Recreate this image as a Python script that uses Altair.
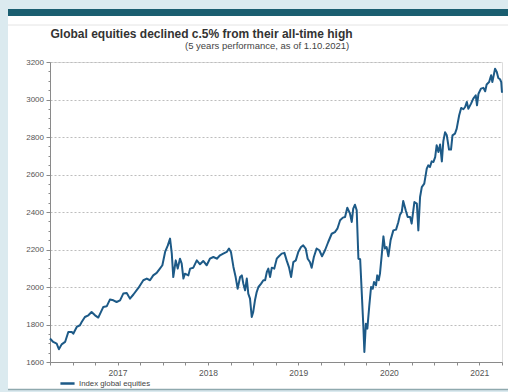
import altair as alt
import pandas as pd

# ---- data (approximate weekly-ish index levels) ----
dates = [
    "2016-10-01", "2016-10-14", "2016-10-28", "2016-11-06", "2016-11-17", "2016-12-01",
    "2016-12-14", "2016-12-28", "2017-01-03", "2017-01-17", "2017-01-30", "2017-02-06",
    "2017-02-19", "2017-03-05", "2017-03-18", "2017-04-01", "2017-04-14", "2017-05-04",
    "2017-05-18", "2017-05-31", "2017-06-14", "2017-06-27", "2017-07-11", "2017-07-24",
    "2017-08-07", "2017-08-20", "2017-09-03", "2017-09-23", "2017-10-13", "2017-10-27",
    "2017-11-09", "2017-11-22", "2017-12-06", "2017-12-19", "2017-12-29", "2018-01-09",
    "2018-01-20", "2018-01-29", "2018-02-05", "2018-02-11", "2018-02-21", "2018-03-01",
    "2018-03-10", "2018-03-17", "2018-03-24", "2018-03-30", "2018-04-13", "2018-04-20",
    "2018-05-03", "2018-05-17", "2018-05-30", "2018-06-12", "2018-06-26", "2018-07-09",
    "2018-07-23", "2018-08-06", "2018-08-19", "2018-09-01", "2018-09-15", "2018-09-24",
    "2018-10-02", "2018-10-12", "2018-10-21", "2018-10-29", "2018-11-08", "2018-11-15",
    "2018-11-21", "2018-11-28", "2018-12-05", "2018-12-11", "2018-12-18", "2018-12-25",
    "2018-12-31", "2019-01-07", "2019-01-14", "2019-01-21", "2019-02-01", "2019-02-10",
    "2019-02-17", "2019-02-24", "2019-03-02", "2019-03-09", "2019-03-16", "2019-03-26",
    "2019-04-05", "2019-04-14", "2019-04-25", "2019-05-06", "2019-05-15", "2019-05-25",
    "2019-06-02", "2019-06-11", "2019-06-21", "2019-07-01", "2019-07-12", "2019-07-21",
    "2019-07-31", "2019-08-08", "2019-08-17", "2019-08-24", "2019-09-02", "2019-09-13",
    "2019-09-24", "2019-10-05", "2019-10-17", "2019-10-30", "2019-11-13", "2019-11-26",
    "2019-12-06", "2019-12-17", "2019-12-28", "2020-01-06", "2020-01-15", "2020-01-26",
    "2020-02-02", "2020-02-08", "2020-02-15", "2020-02-22", "2020-02-29", "2020-03-07",
    "2020-03-13", "2020-03-20", "2020-03-24", "2020-03-30", "2020-04-05", "2020-04-13",
    "2020-04-20", "2020-04-27", "2020-05-02", "2020-05-10", "2020-05-15", "2020-05-21",
    "2020-05-26", "2020-06-02", "2020-06-09", "2020-06-15", "2020-06-22", "2020-06-29",
    "2020-07-08", "2020-07-19", "2020-07-30", "2020-08-08", "2020-08-15", "2020-08-22",
    "2020-08-28", "2020-09-07", "2020-09-15", "2020-09-25", "2020-10-01", "2020-10-12",
    "2020-10-22", "2020-10-28", "2020-11-04", "2020-11-11", "2020-11-21", "2020-12-01",
    "2020-12-07", "2020-12-14", "2020-12-21", "2020-12-28", "2021-01-04", "2021-01-10",
    "2021-01-17", "2021-01-24", "2021-01-31", "2021-02-06", "2021-02-13", "2021-02-20",
    "2021-03-01", "2021-03-09", "2021-03-15", "2021-03-25", "2021-04-01", "2021-04-11",
    "2021-04-19", "2021-04-28", "2021-05-05", "2021-05-12", "2021-05-18", "2021-05-29",
    "2021-06-07", "2021-06-17", "2021-06-22", "2021-06-28", "2021-07-08", "2021-07-18",
    "2021-07-25", "2021-07-31", "2021-08-10", "2021-08-18", "2021-08-23", "2021-09-03",
    "2021-09-10", "2021-09-16", "2021-09-23", "2021-09-28", "2021-10-01",
]
values = [
    1725, 1707, 1698, 1668, 1694, 1707,
    1760, 1760, 1751, 1787, 1796, 1813,
    1840, 1849, 1867, 1849, 1837, 1893,
    1897, 1933, 1929, 1920, 1929, 1965,
    1968, 1938, 1960, 1995, 2036, 2045,
    2036, 2062, 2075, 2098, 2116, 2187,
    2222, 2258, 2178, 2053, 2142, 2098,
    2151, 2125, 2045, 2071, 2062, 2098,
    2103, 2142, 2121, 2139, 2116, 2151,
    2160, 2151, 2169, 2178, 2187, 2205,
    2187, 2107, 2053, 1991, 2053, 2062,
    2018, 1982, 2045, 1965, 1938, 1840,
    1867, 1929, 1973, 2000, 2018, 2036,
    2036, 2080, 2098, 2053, 2103, 2098,
    2151, 2164, 2178, 2182, 2142, 2103,
    2053, 2133, 2142, 2187, 2213, 2222,
    2205, 2151, 2133, 2103, 2160, 2205,
    2196, 2164, 2196, 2240, 2284, 2293,
    2311, 2356, 2370, 2373, 2423, 2391,
    2347, 2418, 2439, 2409, 2151, 2148,
    1982, 1787, 1653, 1804, 1778, 1902,
    2000, 1991, 2027, 2009, 2062, 2036,
    2071, 2169, 2270, 2205, 2213, 2164,
    2250, 2302, 2306, 2345, 2386, 2400,
    2459, 2409, 2373, 2373, 2338, 2453,
    2445, 2302, 2480, 2533, 2551, 2631,
    2649, 2640, 2670, 2667, 2693, 2756,
    2720, 2760, 2670, 2778, 2825, 2809,
    2733, 2733, 2809, 2818, 2845, 2916,
    2955, 2948, 2960, 2987, 2951, 2978,
    3005, 3022, 2969, 3031, 3058, 3062,
    3044, 3080, 3093, 3129, 3093, 3164,
    3147, 3115, 3108, 3093, 3036,
]
series_name = "Index global equities"
title_text = "Global equities declined c.5% from their all-time high"
subtitle_text = "(5 years performance, as of 1.10.2021)"
y_ticks = list(range(1600, 3201, 50))

df = pd.DataFrame({"date": dates, "value": values, "series": [series_name] * len(dates)})

FONT = "Liberation Sans"
LINE = "#1d5a87"
FRAME = "#dbeaef"

x_ticks = [alt.DateTime(year=y, month=m, date=1, utc=True)
           for y in range(2016, 2022) for m in (1, 4, 7, 10)
           if (y, m) >= (2016, 10) and (y, m) <= (2021, 10)]

x_enc = alt.X(
    "date:T",
    scale=alt.Scale(type="utc",
                    domain=[alt.DateTime(year=2016, month=10, date=1, utc=True),
                            alt.DateTime(year=2021, month=10, date=1, utc=True)]),
    axis=alt.Axis(
        values=x_ticks, title=None, grid=False,
        labelExpr="utcFormat(datum.value, '%m') === '07' ? utcFormat(datum.value, '%Y') : ''",
        labelFontSize=8.5, labelColor="#555555", labelFont=FONT, labelPadding=3,
        tickSize=3, tickColor="#8a8a8a", domainColor="#8a8a8a", labelFlush=False,
        labelOverlap=False,
    ),
)
y_enc = alt.Y(
    "value:Q",
    scale=alt.Scale(domain=[1600, 3200], nice=False, zero=False),
    axis=alt.Axis(
        values=y_ticks, title=None, format="d",
        labelExpr="datum.value % 200 === 0 ? datum.label : ''",
        labelFontSize=8, labelColor="#555555", labelFont=FONT, labelPadding=2.5,
        tickSize={"condition": {"test": "datum.value % 200 === 0", "value": 4}, "value": 2},
        tickColor="#8a8a8a", domainColor="#8a8a8a",
        grid=True, gridColor="#bdbdbd", gridDash=[2, 2], gridWidth=1,
        gridOpacity={"condition": {"test": "datum.value % 200 === 0 && datum.value > 1600", "value": 1}, "value": 0},
        labelOverlap=False,
    ),
)

one = alt.Data(values=[{"k": 1}])

# light-blue frame pieces around the white card (outside the plot area)
left_strip = alt.Chart(one).mark_rect(color=FRAME).encode(
    x=alt.value(-50), x2=alt.value(-42), y=alt.value(-62), y2=alt.value(330))
top_strip = alt.Chart(one).mark_rect(color=FRAME).encode(
    x=alt.value(-50), x2=alt.value(458), y=alt.value(-62), y2=alt.value(-53))
bottom_strip = alt.Chart(one).mark_rect(color=FRAME).encode(
    x=alt.value(-50), x2=alt.value(458), y=alt.value(328), y2=alt.value(330))
teal_bar = alt.Chart(one).mark_rect(color="#1a5e70").encode(
    x=alt.value(-42), x2=alt.value(458), y=alt.value(-53), y2=alt.value(-46))
thin_rule = alt.Chart(one).mark_rule(color="#e4e4e4", strokeWidth=1).encode(
    x=alt.value(-42), x2=alt.value(458), y=alt.value(-37))
bottom_rule = alt.Chart(one).mark_rule(color="#8fa9ae", strokeWidth=1.5).encode(
    x=alt.value(-42), x2=alt.value(458), y=alt.value(327.5))

title = alt.Chart(one).mark_text(
    align="left", baseline="alphabetic", font=FONT, fontSize=12, fontWeight="bold", color="#333333"
).encode(x=alt.value(0.5), y=alt.value(-24), text=alt.value(title_text))
subtitle = alt.Chart(one).mark_text(
    align="left", baseline="alphabetic", font=FONT, fontSize=9.5, color="#444444"
).encode(x=alt.value(135), y=alt.value(-13.5), text=alt.value(subtitle_text))

line = alt.Chart(df).mark_line(strokeWidth=2, strokeJoin="round").encode(
    x=x_enc,
    y=y_enc,
    color=alt.Color(
        "series:N",
        scale=alt.Scale(domain=[series_name], range=[LINE]),
        legend=alt.Legend(
            title=None, orient="none", legendX=9, legendY=313,
            symbolType="stroke", symbolSize=200, symbolStrokeWidth=2.5,
            labelFontSize=7.8, labelColor="#444444", labelFont=FONT, labelOffset=3,
        ),
    ),
)

chart = alt.layer(left_strip, top_strip, bottom_strip, teal_bar, thin_rule, bottom_rule,
                  title, subtitle, line).properties(
    width=452, height=300,
    autosize=alt.AutoSizeParams(type="none"),
    padding={"left": 50, "top": 62, "right": 6, "bottom": 30},
    background="white",
).configure_view(stroke=None).configure(font=FONT)

chart.save("out.html", embed_options={"renderer": "svg", "actions": False})
